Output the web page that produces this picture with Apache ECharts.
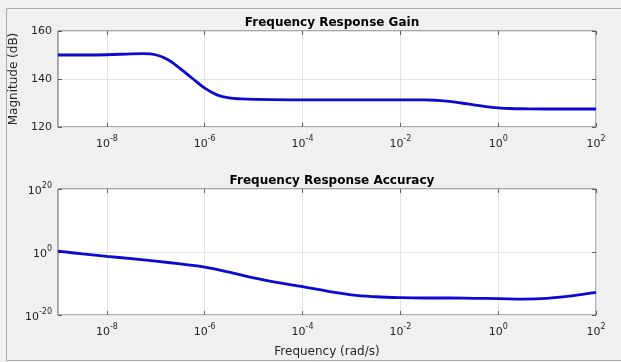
<!DOCTYPE html>
<html>
<head>
<meta charset="utf-8">
<script src="https://cdn.jsdelivr.net/npm/echarts@6/dist/echarts.min.js"></script>
<style>
  html, body { margin: 0; padding: 0; background: #f0f0f0; }
  #chart { width: 621px; height: 362px; }
</style>
</head>
<body>
<div id="chart"></div>
<script>
// Frequency grid (rad/s) and gain magnitude (dB)
const gainFreq = [1e-9, 3.16e-9, 1e-8, 3.16e-8, 5.62e-8, 1e-7, 1.78e-7, 3.16e-7, 5.62e-7,
  1e-6, 1.78e-6, 3.16e-6, 5.62e-6, 1e-5, 1e-4, 1e-3, 1e-2, 3.16e-2, 5.62e-2, 1e-1,
  1.78e-1, 3.16e-1, 5.62e-1, 1, 1.78, 3.16, 10, 100];
const gainDb = [150.0, 150.0, 150.1, 150.5, 150.6, 150.1, 148.0, 144.3, 140.2,
  136.2, 133.4, 132.1, 131.7, 131.5, 131.3, 131.3, 131.3, 131.3, 131.1, 130.7,
  130.0, 129.2, 128.5, 128.0, 127.7, 127.6, 127.5, 127.5];

// Frequency grid (rad/s), half-decade steps, and response accuracy
const accFreq = [1e-9, 3.16e-9, 1e-8, 3.16e-8, 1e-7, 3.16e-7, 1e-6, 3.16e-6, 1e-5, 3.16e-5,
  1e-4, 3.16e-4, 1e-3, 3.16e-3, 1e-2, 3.16e-2, 1e-1, 3.16e-1, 1, 3.16, 10, 31.6, 100];
const accuracy = [2, 0.25, 4e-2, 7.9e-3, 1.26e-3, 1.6e-4, 1.6e-5, 4e-7, 6.3e-9, 2e-10,
  1e-11, 4e-13, 2.5e-14, 6.3e-15, 3.2e-15, 2.5e-15, 2.5e-15, 2e-15, 1.6e-15, 1.1e-15,
  2e-15, 1.26e-14, 1.6e-13];

// Axis ticks
const freqTicks = [1e-8, 1e-6, 1e-4, 1e-2, 1, 1e2];
const accTicks = [1e-20, 1, 1e20];

const FONT = 'DejaVu Sans';
const TXT = '#262626';
const GRID = '#e3e3e3';
const BOX = '#5e5e5e';
const LINE = '#0a0ad2';

const powLabel = v => {
  const e = Math.round(Math.log10(v));
  return '{b|10}{s|' + e + '}';
};
const powRich = {
  b: { fontFamily: FONT, fontSize: 11, color: TXT, verticalAlign: 'bottom' },
  s: { fontFamily: FONT, fontSize: 8, color: TXT, verticalAlign: 'bottom', padding: [0, 0, 7, 0] }
};

function freqAxis(gridIndex, main) {
  return {
    type: 'log', logBase: 10, gridIndex,
    position: main ? 'bottom' : 'top',
    min: 1e-9, max: 1e2,
    axisLine: { show: false },
    axisTick: { show: true, inside: true, length: 4, customValues: freqTicks,
      lineStyle: { color: BOX } },
    axisLabel: { show: main, customValues: freqTicks, formatter: powLabel, rich: powRich, margin: 8 },
    splitLine: { show: main, lineStyle: { color: GRID, width: 1 } },
    minorTick: { show: false }, minorSplitLine: { show: false }
  };
}

const chart = echarts.init(document.getElementById('chart'), null, { renderer: 'canvas' });
chart.setOption({
  backgroundColor: '#f0f0f0',
  animation: false,
  graphic: [{
    type: 'rect', silent: true, z: -10,
    shape: { x: 6.5, y: 8.5, width: 620, height: 352 },
    style: { fill: '#f0f0f0', stroke: '#aaaaaa', lineWidth: 1 }
  }],
  title: [
    { text: 'Frequency Response Gain', left: 327, top: 12, textAlign: 'center',
      textStyle: { fontFamily: FONT, fontSize: 12, fontWeight: 'bold', color: '#000' } },
    { text: 'Frequency Response Accuracy', left: 327, top: 170, textAlign: 'center',
      textStyle: { fontFamily: FONT, fontSize: 12, fontWeight: 'bold', color: '#000' } }
  ],
  grid: [
    { left: 58, right: 25, top: 31, height: 96, show: true, backgroundColor: '#fff',
      borderColor: BOX, borderWidth: 1 },
    { left: 58, right: 25, top: 189, height: 126, show: true, backgroundColor: '#fff',
      borderColor: BOX, borderWidth: 1 }
  ],
  xAxis: [
    freqAxis(0, true),
    freqAxis(0, false),
    Object.assign(freqAxis(1, true), {
      name: 'Frequency (rad/s)', nameLocation: 'middle', nameGap: 31,
      nameTextStyle: { fontFamily: FONT, fontSize: 12, color: TXT }
    }),
    freqAxis(1, false)
  ],
  yAxis: [
    {
      type: 'value', gridIndex: 0, min: 120, max: 160, interval: 20,
      name: 'Magnitude (dB)', nameLocation: 'middle', nameGap: 33,
      nameTextStyle: { fontFamily: FONT, fontSize: 12, color: TXT },
      axisLine: { show: false },
      axisTick: { show: true, inside: true, length: 4, lineStyle: { color: BOX } },
      axisLabel: { fontFamily: FONT, fontSize: 11, color: TXT, margin: 6 },
      splitLine: { show: true, lineStyle: { color: GRID } }
    },
    {
      type: 'value', gridIndex: 0, min: 120, max: 160, interval: 20, position: 'right',
      axisLine: { show: false },
      axisTick: { show: true, inside: true, length: 4, lineStyle: { color: BOX } },
      axisLabel: { show: false }, splitLine: { show: false }
    },
    {
      type: 'log', logBase: 10, gridIndex: 1, min: 1e-20, max: 1e20,
      axisLine: { show: false },
      axisTick: { show: true, inside: true, length: 4, customValues: accTicks,
        lineStyle: { color: BOX } },
      axisLabel: { customValues: accTicks, formatter: powLabel, rich: powRich, margin: 6 },
      splitLine: { show: true, lineStyle: { color: GRID } },
      minorTick: { show: false }, minorSplitLine: { show: false }
    },
    {
      type: 'log', logBase: 10, gridIndex: 1, min: 1e-20, max: 1e20, position: 'right',
      axisLine: { show: false },
      axisTick: { show: true, inside: true, length: 4, customValues: accTicks,
        lineStyle: { color: BOX } },
      axisLabel: { show: false }, splitLine: { show: false }
    }
  ],
  series: [
    {
      type: 'line', xAxisIndex: 0, yAxisIndex: 0, smooth: 0.4, showSymbol: false,
      lineStyle: { color: LINE, width: 2.8 },
      data: gainFreq.map((f, i) => [f, gainDb[i]])
    },
    {
      type: 'line', xAxisIndex: 2, yAxisIndex: 2, smooth: 0.4, showSymbol: false,
      lineStyle: { color: LINE, width: 2.8 },
      data: accFreq.map((f, i) => [f, accuracy[i]])
    }
  ]
});
</script>
</body>
</html>
